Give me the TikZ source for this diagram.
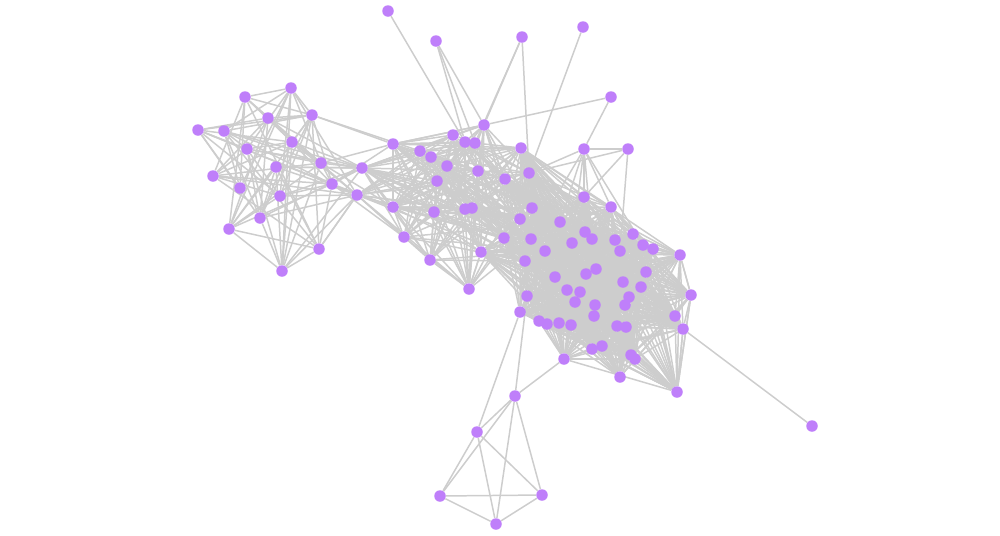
\documentclass[tikz,border=0pt]{standalone}
\usetikzlibrary{backgrounds}
\definecolor{dotcol}{RGB}{191,127,250}
\definecolor{edgecol}{RGB}{205,205,205}
\pgfdeclarelayer{edgelayer}
\pgfsetlayers{edgelayer,main}
\newcommand\mkcluster[3]{%
  \foreach \i in {#1}{\foreach \j in {#1}{%
    \ifnum\i<\j
      \pgfmathtruncatemacro\hh{mod(\i*13+\j*17+mod(\i*\j,97)*31+#3,97)}%
      \ifnum\hh<#2 \draw[edge] (n\i) -- (n\j);\fi
    \fi}}}
\begin{document}
\begin{tikzpicture}[x=0.02cm,y=-0.02cm,
  dot/.style={circle,fill=dotcol,draw=none,inner sep=0pt,minimum size=0.23cm},
  edge/.style={draw=edgecol,line width=0.85pt}]
\useasboundingbox (0,0) rectangle (1000,535);
\foreach \k/\x/\y in {
 1/291/88, 2/245/97, 3/198/130, 4/224/131, 5/268/118, 6/312/115, 7/292/142,
 8/247/149, 9/276/167, 10/321/163, 11/213/176, 12/240/188, 13/332/184,
 14/280/196, 15/260/218, 16/229/229, 17/319/249, 18/282/271,
 19/362/168, 20/357/195,
 21/484/125, 22/453/135, 23/465/142, 24/475/143, 25/393/144, 26/420/151,
 27/431/157, 28/521/148, 29/447/166, 30/478/171, 31/437/181, 32/505/179,
 33/529/173, 34/393/207, 35/434/212, 36/465/209, 37/472/208, 38/404/237,
 39/481/252, 40/430/260, 41/469/289,
 42/532/208, 43/520/219, 44/560/222, 45/504/238, 46/531/239, 47/545/251,
 48/525/261, 49/555/277, 50/584/197, 51/611/207, 52/585/232, 53/592/239,
 54/615/240, 55/633/234, 56/643/245, 57/653/249, 58/680/255, 59/572/243,
 60/620/251, 61/596/269, 62/586/274, 63/646/272, 64/623/282, 65/641/287,
 66/691/295, 67/567/290, 68/580/292, 69/629/297, 70/625/305, 71/575/302,
 72/595/305, 73/527/296, 74/520/312, 75/594/316, 76/675/316, 77/539/321,
 78/547/324, 79/559/323, 80/571/325, 81/617/326, 82/626/327, 83/683/329,
 84/602/346, 85/592/349, 86/631/355, 87/635/359, 88/564/359, 89/620/377,
 90/677/392,
 91/388/11, 92/436/41, 93/522/37, 94/583/27, 95/611/97, 96/584/149,
 97/628/149, 98/812/426, 99/515/396, 100/477/432, 101/440/496,
 102/542/495, 103/496/524}
 {\node[dot] (n\k) at (\x,\y) {};}
\begin{pgfonlayer}{edgelayer}
\mkcluster{1,...,20}{50}{3}
\mkcluster{19,...,48}{56}{11}
\mkcluster{28,32,33,39,42,43,...,90}{60}{29}
\foreach \a/\b in {91/23, 92/21, 92/24, 92/23, 93/21, 93/24, 93/33, 94/33,
 95/21, 95/96, 96/97, 96/33, 96/50, 96/51, 96/44, 96/53, 96/46, 96/59, 96/56,
 97/50, 97/33, 97/60, 98/83, 99/73, 99/88, 99/100, 99/101, 99/102, 99/103,
 100/74, 100/101, 100/102, 100/103, 101/102, 101/103, 102/103,
 19/21, 25/21, 41/39, 41/40, 41/36, 41/35, 90/66, 90/83, 66/58, 83/76,
 6/25, 10/25, 13/34, 13/25, 10/34, 6/26, 13/38, 14/20, 17/20, 9/19, 7/19}
 {\draw[edge] (n\a) -- (n\b);}
\end{pgfonlayer}
\end{tikzpicture}
\end{document}
